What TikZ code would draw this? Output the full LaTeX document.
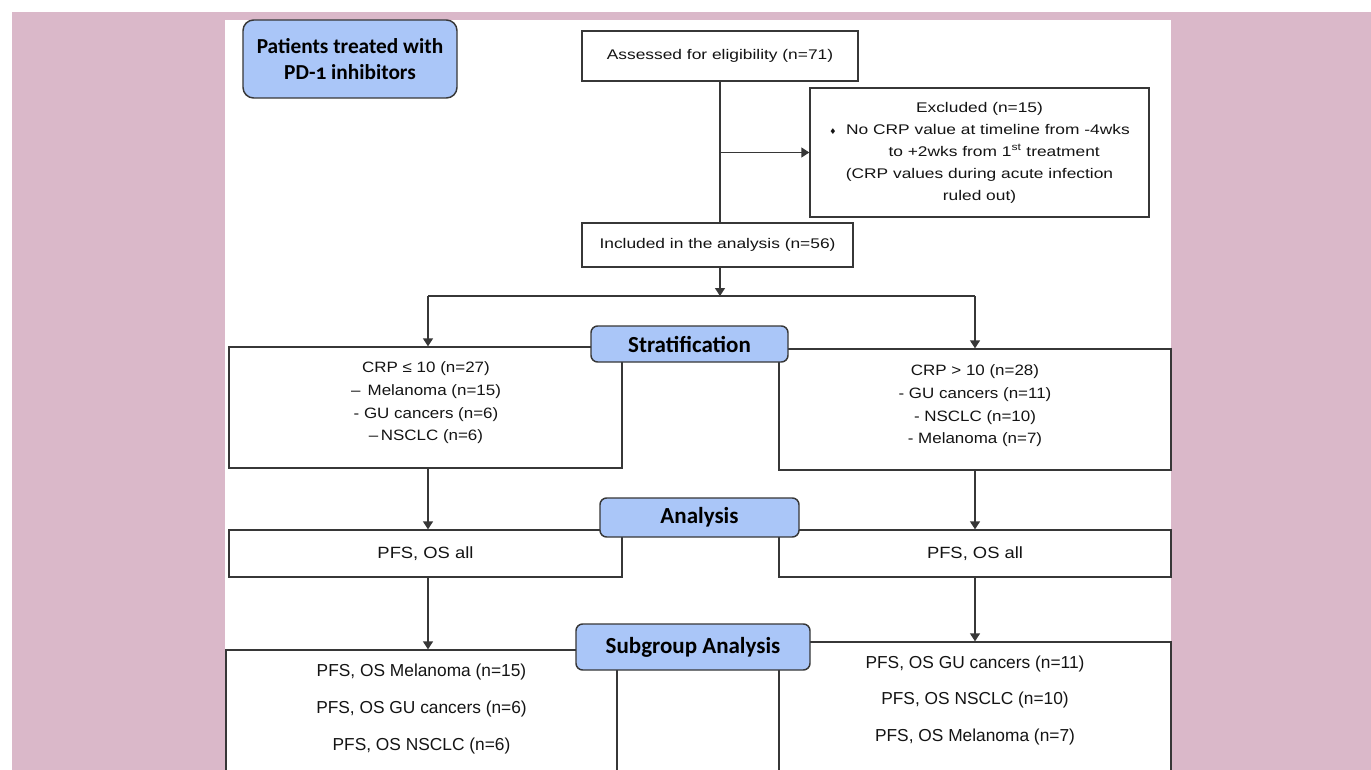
\documentclass[tikz,border=0pt]{standalone}
\usepackage{fontspec}
\setmainfont{Liberation Sans}
\newfontfamily\fA[FakeStretch=1.24]{Liberation Sans}
\newfontfamily\fB[FakeStretch=1.13]{Liberation Sans}
\newfontfamily\fC{Liberation Sans}
\newfontfamily\fK[Numbers=OldStyle]{Carlito}
\newfontfamily\fDJ{DejaVu Sans}
\usetikzlibrary{arrows.meta}
\definecolor{bgpink}{RGB}{218,184,201}
\definecolor{hdblue}{RGB}{170,198,248}
\definecolor{edge}{RGB}{55,55,55}
\definecolor{txt}{RGB}{20,20,20}
\begin{document}
\begin{tikzpicture}[x=0.75pt,y=-0.75pt,
  plainbox/.style={draw=edge, line width=1pt, fill=white, inner sep=0pt},
  hdbox/.style={draw=edge, line width=1.1pt, fill=hdblue, rounded corners=5pt, inner sep=0pt, text=black, font=\fK\bfseries\fontsize{17.25pt}{20pt}\selectfont},
  ln/.style={draw=edge, line width=1pt},
  arr/.style={ln, -{Triangle[length=6pt,width=7.5pt]}},
  tA/.style={font=\fA\fontsize{10.5pt}{16.5pt}\selectfont, align=center, text=txt},
  tB/.style={font=\fB\fontsize{11.25pt}{17pt}\selectfont, align=center, text=txt},
  tP/.style={font=\fB\fontsize{12.2pt}{15pt}\selectfont, align=center, text=txt},
  tC/.style={font=\fC\fontsize{13pt}{27.5pt}\selectfont, align=center, text=txt}]
\useasboundingbox (0,0) rectangle (1371,770);
\clip (0,0) rectangle (1371,770);
\fill[white] (0,0) rectangle (1371,770);
\fill[bgpink] (12,12) rectangle (1371,770);
\fill[white] (225,20) rectangle (1171,770);

% header
\node[hdbox, rounded corners=8pt, minimum width=214*0.75pt, minimum height=78*0.75pt, align=center, font=\fK\bfseries\fontsize{16pt}{19.5pt}\selectfont] (patients) at (350,59) {Patients treated with\\PD-1 inhibitors};

% top flow
\node[plainbox, tA, minimum width=276*0.75pt, minimum height=50*0.75pt] (assess) at (720,56) {Assessed for eligibility (n=71)};
\node[plainbox, tA, minimum width=339*0.75pt, minimum height=129*0.75pt] (excl) at (979.5,152.5) {Excluded (n=15)\\{\fDJ\fontsize{6pt}{6pt}\selectfont ♦}\ \ No CRP value at timeline from -4wks\\\hspace*{22pt}to +2wks from 1\textsuperscript{st} treatment\\(CRP values during acute infection\\ruled out)};
\node[plainbox, tA, minimum width=271*0.75pt, minimum height=44*0.75pt] (incl) at (717.5,245) {Included in the analysis (n=56)};

\coordinate (j) at (720,296);
\coordinate (jl) at (428,296);
\coordinate (jr) at (975,296);

% stratification row
\node[plainbox, minimum width=393*0.75pt, minimum height=121*0.75pt] (crpL) at (425.5,407.5) {};
\node[tB] (crpLt) at (426,403) {CRP ≤ 10 (n=27)\\– \,Melanoma (n=15)\\- GU cancers (n=6)\\–\,NSCLC (n=6)};
\node[plainbox, minimum width=392*0.75pt, minimum height=121*0.75pt] (crpR) at (975,409.5) {};
\node[tB] (crpRt) at (975,406) {CRP > 10 (n=28)\\- GU cancers (n=11)\\- NSCLC (n=10)\\- Melanoma (n=7)};
\node[hdbox, minimum width=197*0.75pt, minimum height=36*0.75pt] (strat) at (689.5,344) {Stratification};

% analysis row
\node[plainbox, tP, minimum width=393*0.75pt, minimum height=47*0.75pt] (pfsL) at (425.5,553.5) {PFS, OS all};
\node[plainbox, tP, minimum width=392*0.75pt, minimum height=47*0.75pt] (pfsR) at (975,553.5) {PFS, OS all};
\node[hdbox, minimum width=199*0.75pt, minimum height=39*0.75pt] (anal) at (699.5,517.5) {Analysis};

% subgroup row
\node[plainbox, minimum width=391*0.75pt, minimum height=150*0.75pt] (subL) at (421.5,725) {};
\node[tC] (subLt) at (421.5,709) {PFS, OS Melanoma (n=15)\\PFS, OS GU cancers (n=6)\\PFS, OS NSCLC (n=6)};
\node[plainbox, minimum width=392*0.75pt, minimum height=158*0.75pt] (subR) at (975,721) {};
\node[tC] (subRt) at (975,700.5) {PFS, OS GU cancers (n=11)\\PFS, OS NSCLC (n=10)\\PFS, OS Melanoma (n=7)};
\node[hdbox, minimum width=234*0.75pt, minimum height=46*0.75pt] (subg) at (693,647) {Subgroup Analysis};

% connectors
\draw[ln] (assess.south) -- (assess.south |- incl.north);
\draw[arr] (assess.south |- excl.west) -- (excl.west);
\draw[arr] (assess.south |- incl.south) -- (j);
\draw[ln] (jl) -- (jr);
\draw[arr] (jl) -- (jl |- crpL.north);
\draw[arr] (jr) -- (jr |- crpR.north);
\draw[arr] (jl |- crpL.south) -- (jl |- pfsL.north);
\draw[arr] (jr |- crpR.south) -- (jr |- pfsR.north);
\draw[arr] (jl |- pfsL.south) -- (jl |- subL.north);
\draw[arr] (jr |- pfsR.south) -- (jr |- subR.north);
\end{tikzpicture}
\end{document}
